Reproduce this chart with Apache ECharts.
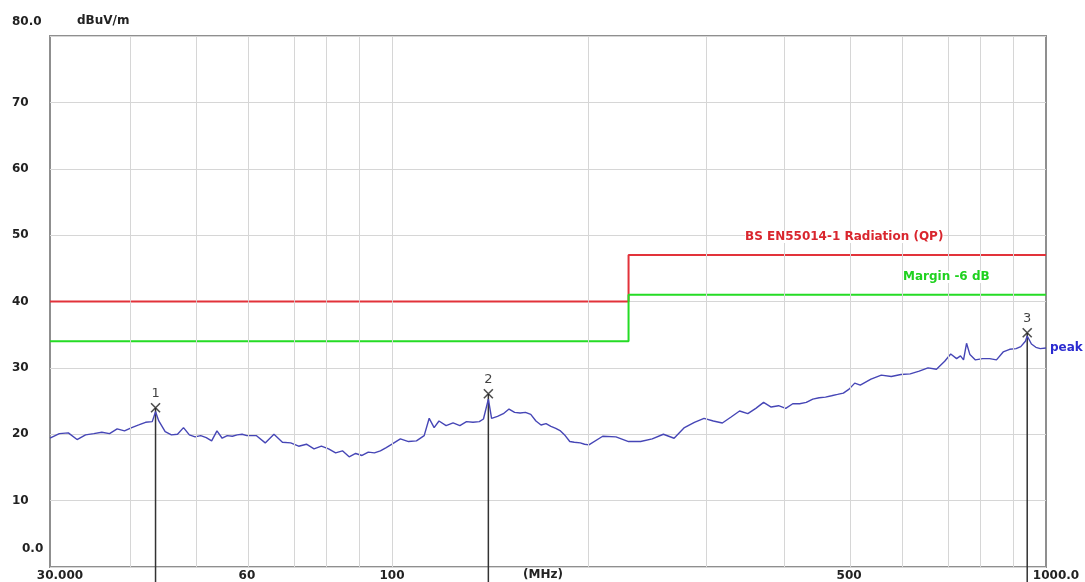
<!DOCTYPE html>
<html>
<head>
<meta charset="utf-8">
<script src="https://cdn.jsdelivr.net/npm/echarts@6/dist/echarts.min.js"></script>
<style>
  html, body { margin: 0; padding: 0; background: #fff; }
  #chart { width: 1085px; height: 582px; }
</style>
</head>
<body>
<div id="chart"></div>
<script>
// sweep (MHz) and peak detector reading (dBuV/m)
const freqs = [30, 31, 32, 33, 34, 35, 36, 37, 38, 39, 40, 41, 42, 43, 43.5, 44, 45, 46, 47, 48, 49,
  50, 51, 52, 53, 54, 55, 56, 57, 58, 59, 60, 62, 64, 66, 68, 70, 72, 74, 76, 78, 80, 82, 84, 86, 88,
  90, 92, 94, 96, 98, 100, 103, 106, 109, 112, 114, 116, 118, 121, 124, 127, 130, 133, 136, 138, 140.4,
  142, 145, 148, 151, 154, 157, 160, 163, 166, 169, 172, 175, 178, 181, 184, 187, 190, 194, 197, 200,
  210, 220, 230, 240, 250, 260, 270, 280, 290, 300, 310, 320, 330, 340, 350, 360, 370, 380, 390, 400,
  410, 420, 430, 440, 450, 460, 470, 480, 490, 500, 510, 520, 540, 560, 580, 600, 620, 640, 660, 680,
  700, 715, 730, 740, 748, 756, 765, 780, 800, 820, 840, 860, 880, 900, 915, 930, 936, 950, 965, 980, 1000];
const peakLevels = [19.4, 20.1, 20.2, 19.2, 19.9, 20.1, 20.3, 20.1, 20.8, 20.5, 21.0, 21.4, 21.8, 21.9, 23.4, 22.0, 20.4, 19.9, 20.0, 21.0, 19.9,
  19.6, 19.8, 19.5, 19.0, 20.5, 19.4, 19.8, 19.7, 19.9, 20.0, 19.8, 19.8, 18.7, 20.0, 18.8, 18.7, 18.2, 18.5, 17.8, 18.2, 17.8, 17.2, 17.5, 16.6, 17.1,
  16.8, 17.3, 17.2, 17.5, 18.0, 18.5, 19.3, 18.9, 19.0, 19.8, 22.4, 21.0, 22.0, 21.3, 21.7, 21.3, 21.9, 21.8, 21.9, 22.3, 25.3,
  22.4, 22.7, 23.1, 23.8, 23.3, 23.2, 23.3, 23.0, 22.0, 21.4, 21.6, 21.2, 20.9, 20.5, 19.8, 18.9, 18.8, 18.7, 18.5, 18.4,
  19.7, 19.6, 18.9, 18.9, 19.3, 20.0, 19.4, 21.0, 21.8, 22.4, 22.0, 21.7, 22.6, 23.5, 23.1, 23.9, 24.8, 24.1, 24.3, 23.9,
  24.6, 24.6, 24.8, 25.3, 25.5, 25.6, 25.8, 26.0, 26.2, 26.8, 27.7, 27.4, 28.3, 28.9, 28.7, 29.0, 29.1, 29.5, 30.0, 29.8,
  31.0, 32.1, 31.4, 31.8, 31.2, 33.7, 32.0, 31.2, 31.4, 31.4, 31.2, 32.4, 32.8, 32.9, 33.2, 34.0, 34.8, 33.6, 33.1, 32.9, 33.0];

// EN55014-1 radiated limit and -6 dB margin
const limitFreqs = [30, 230, 230, 1000];
const limitLevels = [40, 40, 47, 47];
const marginLevels = [34, 34, 41, 41];

// marked peaks
const markerNames = ['1', '2', '3'];
const markerFreqs = [43.5, 140.4, 936];
const markerLevels = [24.0, 26.1, 35.3];

// axes
const gridFreqs = [40, 50, 60, 70, 80, 90, 100, 200, 300, 400, 500, 600, 700, 800, 900];
const xTickFreqs = [30, 60, 100, 500, 1000];
const xTickLabels = ['30.000', '60', '100', '500', '1000.0'];
const yTickLabels = ['0.0', '10', '20', '30', '40', '50', '60', '70', '80.0'];

const lg = Math.log10;
const pair = (fs, vs) => fs.map((f, i) => [lg(f), vs[i]]);

// marker stems run from the cross down past the axis, broken between markers
const stemData = [];
markerFreqs.forEach((f, i) => {
  stemData.push([lg(f), markerLevels[i]], [lg(f), -2.4], '-');
});

const FONT = 'DejaVu Sans';
const chart = echarts.init(document.getElementById('chart'));

chart.setOption({
  animation: false,
  backgroundColor: '#fff',
  textStyle: { fontFamily: FONT },
  grid: {
    left: 50, right: 39, top: 36, bottom: 15,
    show: true, borderColor: '#8f8f8f', borderWidth: 2
  },
  xAxis: {
    type: 'value',
    min: lg(30),
    max: 3,
    axisLine: { show: false },
    axisTick: { show: false },
    splitLine: { show: false },
    axisLabel: {
      customValues: xTickFreqs.map(lg),
      margin: 3,
      color: '#222',
      fontSize: 12,
      fontWeight: 'bold',
      fontFamily: FONT,
      formatter: v => {
        const i = xTickFreqs.findIndex(f => Math.abs(lg(f) - v) < 1e-6);
        const t = i < 0 ? '' : xTickLabels[i];
        return (i === 0 || i === xTickFreqs.length - 1) ? '{s|' + t + '}' : t;
      },
      rich: { s: { padding: [0, 0, 0, 20], fontSize: 12, fontWeight: 'bold', color: '#222' } }
    }
  },
  yAxis: {
    type: 'value',
    min: 0,
    max: 80,
    interval: 10,
    axisLine: { show: false },
    axisTick: { show: false },
    splitLine: { lineStyle: { color: '#d6d6d6', width: 1 } },
    axisLabel: {
      align: 'left',
      margin: 38,
      color: '#222',
      fontSize: 12,
      fontWeight: 'bold',
      fontFamily: FONT,
      formatter: v => {
        const t = yTickLabels[Math.round(v / 10)];
        if (v === 0) return '{z|' + t + '}';
        if (v === 80) return '{t|' + t + '}';
        return t;
      },
      rich: {
        z: { padding: [0, 0, 36, 10], fontSize: 12, fontWeight: 'bold', color: '#222' },
        t: { padding: [0, 0, 28, 0], fontSize: 12, fontWeight: 'bold', color: '#222' }
      }
    }
  },
  graphic: [
    { type: 'text', left: 77, top: 15, style: { text: 'dBuV/m', fill: '#222', font: 'bold 12px "DejaVu Sans"' } },
    { type: 'text', left: 745, top: 231, z: 10, style: { text: 'BS EN55014-1 Radiation (QP)', fill: '#d9262e', backgroundColor: '#fff', font: 'bold 12px "DejaVu Sans"' } },
    { type: 'text', left: 903, top: 271, z: 10, style: { text: 'Margin -6 dB', fill: '#1fd21f', backgroundColor: '#fff', font: 'bold 12px "DejaVu Sans"' } },
    { type: 'text', left: 523, top: 569, style: { text: '(MHz)', fill: '#222', font: 'bold 12px "DejaVu Sans"' } }
  ],
  series: [
    {
      name: 'grid',
      type: 'line',
      data: [],
      silent: true,
      z: 1,
      markLine: {
        silent: true,
        symbol: ['none', 'none'],
        label: { show: false },
        lineStyle: { color: '#d6d6d6', width: 1, type: 'solid' },
        data: gridFreqs.map(f => ({ xAxis: lg(f) }))
      }
    },
    {
      name: 'limit',
      type: 'line',
      data: pair(limitFreqs, limitLevels),
      symbol: 'none',
      lineStyle: { color: '#e2323a', width: 2 },
      z: 3
    },
    {
      name: 'margin',
      type: 'line',
      data: pair(limitFreqs, marginLevels),
      symbol: 'none',
      lineStyle: { color: '#25dc25', width: 2 },
      z: 3
    },
    {
      name: 'stems',
      type: 'line',
      data: stemData,
      clip: false,
      connectNulls: false,
      symbol: 'none',
      silent: true,
      lineStyle: { color: '#333', width: 1.5 },
      z: 3
    },
    {
      name: 'peak',
      type: 'line',
      data: pair(freqs, peakLevels),
      symbol: 'none',
      lineStyle: { color: '#4646b6', width: 1.4 },
      z: 4,
      endLabel: {
        show: true,
        formatter: 'peak',
        color: '#2a2ad0',
        fontWeight: 'bold',
        fontSize: 12,
        fontFamily: FONT,
        distance: 4
      }
    },
    {
      name: 'markers',
      type: 'scatter',
      data: markerFreqs.map((f, i) => [lg(f), markerLevels[i], markerNames[i]]),
      symbol: 'path://M0,0L10,10M10,0L0,10',
      symbolSize: 9,
      itemStyle: { color: 'none', borderColor: '#222', borderWidth: 1.6 },
      label: {
        show: true,
        position: 'top',
        distance: 1,
        color: '#111',
        fontSize: 13,
        fontFamily: FONT,
        formatter: p => p.data[2]
      },
      z: 5
    }
  ]
});
</script>
</body>
</html>
